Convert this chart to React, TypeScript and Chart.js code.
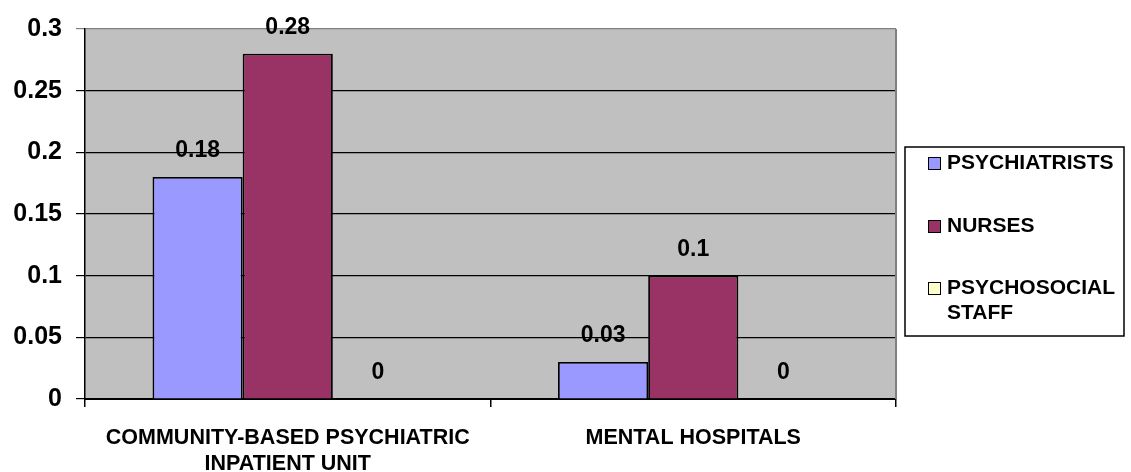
import React, { useEffect, useRef } from "react";
import { Chart, registerables } from "chart.js";

Chart.register(...registerables);

// Staff per 100,000 population by facility type
const CATEGORIES: (string | string[])[] = [
  ["COMMUNITY-BASED PSYCHIATRIC", "INPATIENT UNIT"],
  "MENTAL HOSPITALS",
];
const PSYCHIATRISTS = [0.18, 0.03];
const NURSES = [0.28, 0.1];
const PSYCHOSOCIAL_STAFF = [0, 0];
const SERIES_NAMES = ["PSYCHIATRISTS", "NURSES", "PSYCHOSOCIAL STAFF"];
const LEGEND_LINES = [["PSYCHIATRISTS"], ["NURSES"], ["PSYCHOSOCIAL", "STAFF"]];
const Y_TICK_LABELS = ["0", "0.05", "0.1", "0.15", "0.2", "0.25", "0.3"];

const COLORS = ["#9999FF", "#993366", "#FFFFCC"];
const FONT = '"Liberation Sans", Arial, sans-serif';

// Gray plot background plus the gray right-hand frame line
const plotBackground = {
  id: "plotBackground",
  beforeDraw(chart: any) {
    const { ctx, chartArea: a } = chart;
    ctx.save();
    ctx.fillStyle = "#C0C0C0";
    ctx.fillRect(a.left, a.top, a.right - a.left, a.bottom - a.top);
    ctx.restore();
  },
  afterDraw(chart: any) {
    const { ctx, chartArea: a } = chart;
    ctx.save();
    ctx.strokeStyle = "#808080";
    ctx.lineWidth = 2;
    ctx.beginPath();
    ctx.moveTo(a.right, a.top);
    ctx.lineTo(a.right, a.bottom);
    ctx.stroke();
    ctx.restore();
  },
};

// Value labels above every bar
const valueLabels = {
  id: "valueLabels",
  afterDatasetsDraw(chart: any) {
    const { ctx } = chart;
    ctx.save();
    ctx.font = `bold 23px ${FONT}`;
    ctx.fillStyle = "#000";
    ctx.textAlign = "center";
    ctx.textBaseline = "middle";
    chart.data.datasets.forEach((ds: any, di: number) => {
      const meta = chart.getDatasetMeta(di);
      meta.data.forEach((bar: any, i: number) => {
        ctx.fillText(String(ds.data[i]), bar.x, bar.y - 26);
      });
    });
    ctx.restore();
  },
};

// Boxed legend on the right side
const boxLegend = {
  id: "boxLegend",
  afterDraw(chart: any) {
    const { ctx } = chart;
    const left = 905;
    const top = 147;
    const width = 219;
    const height = 189;
    ctx.save();
    ctx.fillStyle = "#fff";
    ctx.fillRect(left, top, width, height);
    ctx.strokeStyle = "#000";
    ctx.lineWidth = 1.5;
    ctx.strokeRect(left, top, width, height);
    ctx.font = `bold 21px ${FONT}`;
    ctx.textBaseline = "middle";
    ctx.textAlign = "left";
    const rowY = [163, 226, 288];
    LEGEND_LINES.forEach((lines, i) => {
      const y = rowY[i];
      ctx.fillStyle = COLORS[i];
      ctx.fillRect(928, y - 6, 13, 13);
      ctx.strokeStyle = "#000";
      ctx.lineWidth = 1;
      ctx.strokeRect(928.5, y - 5.5, 12, 12);
      ctx.fillStyle = "#000";
      lines.forEach((t, li) => {
        ctx.fillText(t, 947, y + li * 25);
      });
    });
    ctx.restore();
  },
};

export default function App() {
  const canvasRef = useRef<HTMLCanvasElement | null>(null);

  useEffect(() => {
    document.body.style.margin = "0";
    const canvas = canvasRef.current;
    if (!canvas) return;
    const values = [PSYCHIATRISTS, NURSES, PSYCHOSOCIAL_STAFF];
    const chart = new Chart(canvas, {
      type: "bar",
      data: {
        labels: CATEGORIES,
        datasets: SERIES_NAMES.map((name, i) => ({
          label: name,
          data: values[i],
          backgroundColor: COLORS[i],
          borderColor: "#000",
          borderWidth: 1.8,
          categoryPercentage: 0.667,
          barPercentage: 1,
        })),
      },
      options: {
        responsive: false,
        animation: false,
        devicePixelRatio: 1,
        layout: { padding: { top: 27, right: 235, left: 0, bottom: 0 } },
        plugins: {
          legend: { display: false },
          tooltip: { enabled: false },
        },
        scales: {
          x: {
            offset: true,
            grid: {
              offset: true,
              drawOnChartArea: false,
              drawTicks: true,
              tickLength: 8,
              color: "#000",
              lineWidth: 1.5,
            },
            border: { display: true, color: "#000", width: 2 },
            ticks: {
              color: "#000",
              font: { family: FONT, size: 21.5, weight: "bold", lineHeight: 1.17 },
              padding: 19,
              maxRotation: 0,
              autoSkip: false,
            },
            afterFit(scale: any) {
              scale.height = 73;
            },
          },
          y: {
            min: 0,
            max: 0.3,
            ticks: {
              stepSize: 0.05,
              color: "#000",
              font: { family: FONT, size: 25, weight: "bold" },
              padding: 14,
              callback: (_v: any, i: number) => Y_TICK_LABELS[i],
            },
            grid: {
              color: (c: any) => (c.index === Y_TICK_LABELS.length - 1 ? "#808080" : "#000"),
              lineWidth: 1.2,
              tickLength: 9,
              drawTicks: true,
            },
            border: { display: true, color: "#000", width: 1.5 },
            afterFit(scale: any) {
              scale.width = 85;
            },
          },
        },
      },
      plugins: [plotBackground, valueLabels, boxLegend],
    });
    return () => chart.destroy();
  }, []);

  return (
    <div style={{ width: 1131, height: 472 }}>
      <canvas ref={canvasRef} width={1131} height={472} />
    </div>
  );
}
